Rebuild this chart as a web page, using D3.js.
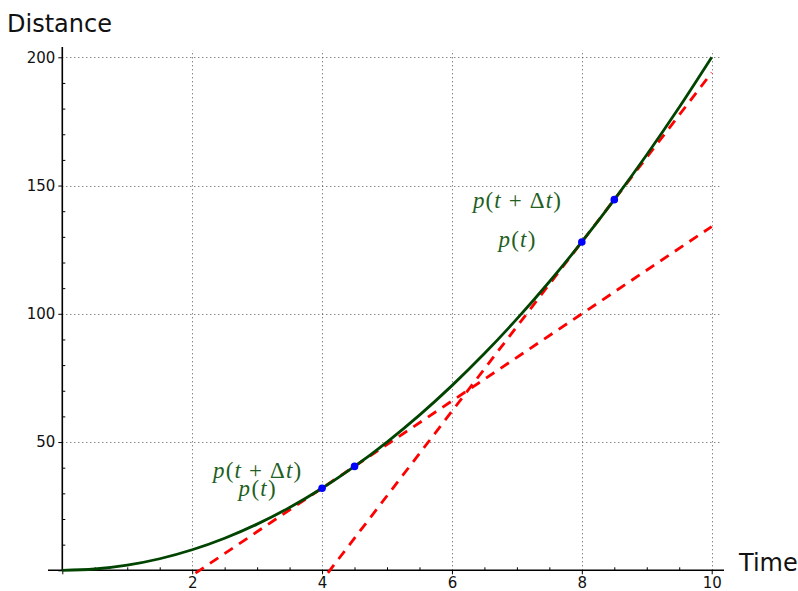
<!DOCTYPE html>
<html>
<head>
<meta charset="utf-8">
<script src="https://cdn.jsdelivr.net/npm/d3@7"></script>
<style>
  html, body { margin: 0; padding: 0; background: #fff; }
  svg { display: block; }
</style>
</head>
<body>
<svg id="chart" width="798" height="591"></svg>
<script>
// ---- data ----
const timeTicks = [0, 2, 4, 6, 8, 10];
const timeMinorTicks = [0.5, 1, 1.5, 2.5, 3, 3.5, 4.5, 5, 5.5, 6.5, 7, 7.5, 8.5, 9, 9.5];
const distanceTicks = [0, 50, 100, 150, 200];
const distanceMinorTicks = [10, 20, 30, 40, 60, 70, 80, 90, 110, 120, 130, 140, 160, 170, 180, 190];

const curveTime = [0, 0.5, 1, 1.5, 2, 2.5, 3, 3.5, 4, 4.5, 5, 5.5, 6, 6.5, 7, 7.5, 8, 8.5, 9, 9.5, 10];
const curveDistance = [0, 0.5, 2, 4.5, 8, 12.5, 18, 24.5, 32, 40.5, 50, 60.5, 72, 84.5, 98, 112.5, 128, 144.5, 162, 180.5, 200];

const pointTime = [4, 4.5, 8, 8.5];
const pointDistance = [32, 40.5, 128, 144.5];

const secant1Time = [2.05, 10];
const secant1Distance = [-1.1, 134];
const secant2Time = [4.09, 10];
const secant2Distance = [-1.0, 194];

const labelTime = [3, 3, 7, 7];
const labelDistance = [38.3, 31.3, 143.4, 128.1];
const labelKind = ["ptdt", "pt", "ptdt", "pt"];

const xLabel = "Time";
const yLabel = "Distance";

// ---- scales ----
const svg = d3.select("#chart");
const x = d3.scaleLinear().domain([0, 10]).range([62.3, 711.7]);
const y = d3.scaleLinear().domain([0, 200]).range([570.3, 57.3]);

const xMinExt = -0.22, xMaxExt = 10.19;
const yMaxExt = 204, yGridTop = 202.8;

// ---- grid ----
const grid = svg.append("g").attr("stroke", "#555").attr("stroke-width", 1)
  .attr("stroke-dasharray", "1,3").attr("fill", "none");
grid.selectAll("line.v").data(timeTicks.filter(d => d !== 0)).join("line")
  .attr("x1", d => Math.round(x(d)) + 0.5).attr("x2", d => Math.round(x(d)) + 0.5)
  .attr("y1", y(0)).attr("y2", y(yGridTop));
grid.selectAll("line.h").data(distanceTicks.filter(d => d !== 0)).join("line")
  .attr("y1", d => Math.round(y(d)) + 0.5).attr("y2", d => Math.round(y(d)) + 0.5)
  .attr("x1", x(0)).attr("x2", x(10.15));

// ---- axes ----
const fmt = d => d === 0 ? "" : d3.format("d")(d);
const tickFont = "DejaVu Sans, sans-serif";

const xAxis = svg.append("g").attr("transform", `translate(0,${y(0)})`)
  .call(d3.axisBottom(x).tickValues(timeTicks).tickSize(4).tickSizeOuter(0).tickPadding(3).tickFormat(fmt));
xAxis.select(".domain").remove();
const xMinor = svg.append("g").attr("transform", `translate(0,${y(0)})`)
  .call(d3.axisBottom(x).tickValues(timeMinorTicks).tickSize(-3).tickSizeOuter(0).tickFormat(""));
xMinor.select(".domain").remove();

const yAxis = svg.append("g").attr("transform", `translate(${x(0)},0)`)
  .call(d3.axisLeft(y).tickValues(distanceTicks).tickSize(4).tickSizeOuter(0).tickPadding(3).tickFormat(fmt));
yAxis.select(".domain").remove();
const yMinor = svg.append("g").attr("transform", `translate(${x(0)},0)`)
  .call(d3.axisLeft(y).tickValues(distanceMinorTicks).tickSize(-3).tickSizeOuter(0).tickFormat(""));
yMinor.select(".domain").remove();

svg.selectAll("g").attr("font-size", null);
svg.selectAll(".tick line").attr("stroke", "#000").attr("stroke-width", 1);
svg.selectAll(".tick text").attr("font-family", tickFont).style("font-size", "15px").attr("fill", "#111");

// axis lines
svg.append("line").attr("x1", x(xMinExt)).attr("x2", x(xMaxExt)).attr("y1", y(0)).attr("y2", y(0))
  .attr("stroke", "#000").attr("stroke-width", 1.6);
svg.append("line").attr("x1", x(0)).attr("x2", x(0)).attr("y1", y(0)).attr("y2", y(yMaxExt))
  .attr("stroke", "#000").attr("stroke-width", 1.6);

// ---- clip ----
svg.append("clipPath").attr("id", "plotclip").append("rect")
  .attr("x", x(xMinExt)).attr("y", y(yMaxExt)).attr("width", x(xMaxExt) - x(xMinExt)).attr("height", 591 - y(yMaxExt));

// ---- secant lines ----
const line = d3.line().x(d => x(d[0])).y(d => y(d[1]));
const plot = svg.append("g").attr("clip-path", "url(#plotclip)");
[[secant1Time, secant1Distance], [secant2Time, secant2Distance]].forEach(([ts, ds]) => {
  plot.append("path").datum(ts.map((t, i) => [t, ds[i]]))
    .attr("d", line).attr("fill", "none").attr("stroke", "#ff0000")
    .attr("stroke-width", 2.8).attr("stroke-dasharray", "10,7.5");
});

// ---- curve ----
const curveLine = d3.line().x(d => x(d[0])).y(d => y(d[1])).curve(d3.curveCatmullRom.alpha(0.5));
plot.append("path").datum(curveTime.map((t, i) => [t, curveDistance[i]]))
  .attr("d", curveLine).attr("fill", "none").attr("stroke", "#004400").attr("stroke-width", 2.8);

// ---- points ----
plot.selectAll("circle.pt").data(pointTime.map((t, i) => [t, pointDistance[i]])).join("circle")
  .attr("cx", d => x(d[0])).attr("cy", d => y(d[1])).attr("r", 3.8).attr("fill", "#0000ff");

// ---- math labels ----
const mathFont = "Liberation Serif, serif";
const labelColor = "#1f5f1f";
labelTime.forEach((t, i) => {
  const kind = labelKind[i];
  const txt = svg.append("text")
    .attr("x", x(t)).attr("y", y(labelDistance[i]) + 5.5)
    .attr("text-anchor", "middle").attr("font-family", mathFont)
    .style("font-size", "23px").attr("fill", labelColor);
  const parts = kind === "ptdt"
    ? [["p", true], ["(", false], ["t", true], [" + ", false], ["\u0394", false], ["t", true], [")", false]]
    : [["p", true], ["(", false], ["t", true], [")", false]];
  parts.forEach(([s, it]) => {
    txt.append("tspan").text(s).attr("font-style", it ? "italic" : "normal");
  });
  const target = kind === "ptdt" ? 88 : 37;
  txt.attr("textLength", target).attr("lengthAdjust", "spacing");
});

// ---- axis titles ----
svg.append("text").attr("x", 7).attr("y", 32.3).text(yLabel)
  .attr("font-family", tickFont).style("font-size", "24px").attr("fill", "#111");
svg.append("text").attr("x", 739).attr("y", 571).text(xLabel)
  .attr("font-family", tickFont).style("font-size", "24px").attr("fill", "#111");
</script>
</body>
</html>
